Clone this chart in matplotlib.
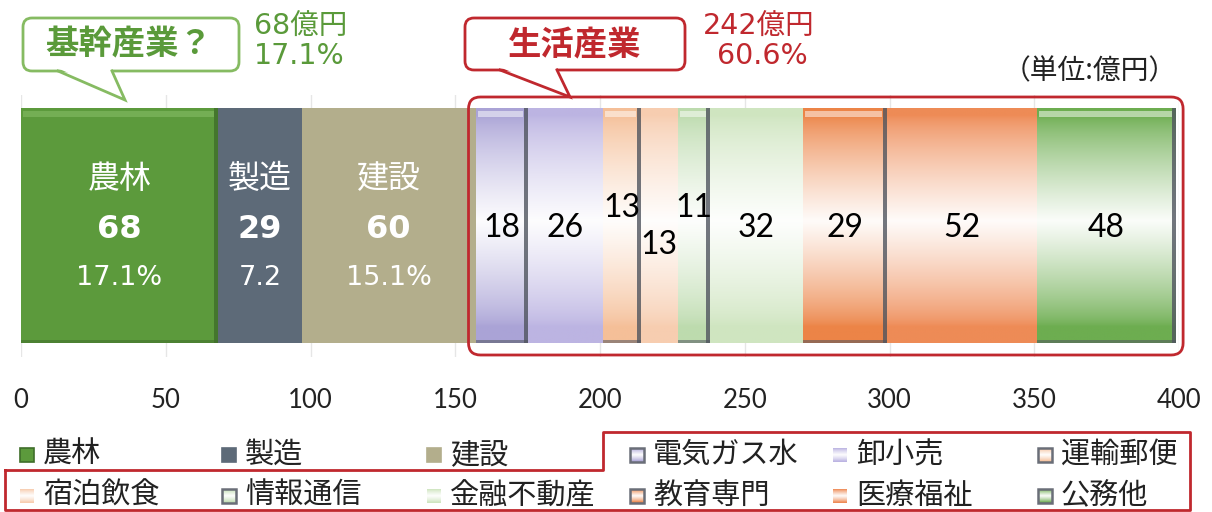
import numpy as np
import matplotlib
matplotlib.use("Agg")
import matplotlib.pyplot as plt
from matplotlib.patches import FancyBboxPatch, Polygon, Rectangle
from matplotlib.colors import to_rgb

# ---- data (億円) ----
industries = ["農林", "製造", "建設", "電気ガス水", "卸小売", "運輸郵便",
              "宿泊飲食", "情報通信", "金融不動産", "教育専門", "医療福祉", "公務他"]
values = [68, 29, 60, 18, 26, 13, 13, 11, 32, 29, 52, 48]
core_labels = ["17.1%", "7.2", "15.1%"]          # share text shown under the core bars
core_pct_text = "17.1%"
life_pct_text = "60.6%"
xticks = [0, 50, 100, 150, 200, 250, 300, 350, 400]

# ---- styles ----
colors = ["#5c9a3c", "#5d6a78", "#b3ae8c", "#aaa3d6", "#bcb4e2", "#f5bf98",
          "#f7cdb0", "#bddbae", "#cfe5c0", "#ec8447", "#ee8b56", "#6dad50"]
bevel = {"農林", "電気ガス水", "運輸郵便", "情報通信", "教育専門", "公務他"}
core = ["農林", "製造", "建設"]
stagger = {"運輸郵便": 1, "宿泊飲食": -1, "情報通信": 1}

JP = ["Noto Sans CJK JP", "DejaVu Sans"]
DIG = ["DejaVu Sans", "Noto Sans CJK JP"]
NUM = ["Lato", "DejaVu Sans"]
GREEN_TXT = "#5a9a3a"
GREEN_LINE = "#86bb62"
RED = "#c0282e"

W, H = 1212, 512
fig = plt.figure(figsize=(W / 100, H / 100), dpi=100)
fig.patch.set_facecolor("white")

# main axes: x 0..400 spans px 21..1179, vertical px 95..357
ax_top, ax_bot = 95, 357
ax = fig.add_axes([21 / W, (H - ax_bot) / H, 1158 / W, (ax_bot - ax_top) / H])
ax.set_xlim(0, 400)
ax.set_ylim(0, 1)


def ypx(p):
    """pixel row -> axes y units"""
    return (ax_bot - p) / (ax_bot - ax_top)


bar_bottom = ypx(343)
bar_top = ypx(108)
bar_h = bar_top - bar_bottom
bar_c = (bar_top + bar_bottom) / 2


def vgradient(color, n=256):
    c = np.array(to_rgb(color))
    t = np.linspace(0, 1, n)
    m = np.clip(1 - np.abs(t - 0.52) / 0.45, 0, 1) ** 0.75 * 0.97
    rgb = c[None, :] * (1 - m[:, None]) + m[:, None]
    return rgb[:, None, :]


lefts = np.concatenate([[0], np.cumsum(values)[:-1]])
bars = ax.barh(bar_c, values, left=lefts, height=bar_h, color=colors,
               linewidth=0, zorder=2)

for name, left, v, col, patch in zip(industries, lefts, values, colors, bars):
    if name not in core:
        im = ax.imshow(vgradient(col), extent=[left, left + v, bar_bottom, bar_top],
                       origin="lower", aspect="auto", zorder=3, interpolation="bilinear")
        im.set_clip_path(patch)
    if name in bevel:
        dark = "#3f6e2a" if name == "農林" else "#50555f"
        ax.add_patch(Rectangle((left + v - 1.3, bar_bottom), 1.3, bar_h,
                               color=dark, alpha=0.8, lw=0, zorder=4))
        ax.add_patch(Rectangle((left, bar_bottom), v, 0.012,
                               color=dark, alpha=0.55, lw=0, zorder=4))
        hl = "#8cc26c" if name == "農林" else "white"
        ax.add_patch(Rectangle((left + 0.8, bar_top - 0.035), v - 2.3, 0.022,
                               color=hl, alpha=0.5, lw=0, zorder=4))

ax.set_xlim(0, 400)
ax.set_ylim(0, 1)

# labels inside bars
for i, (name, left, v) in enumerate(zip(industries, lefts, values)):
    cx = left + v / 2
    if name in core:
        ax.text(cx, ypx(179), name, color="white", fontsize=23, family=JP,
                ha="center", va="center", zorder=6)
        ax.text(cx, ypx(229), f"{v}", color="white", fontsize=23, family=DIG,
                fontweight="bold", ha="center", va="center", zorder=6)
        ax.text(cx, ypx(278), core_labels[i], color="white", fontsize=19.5, family=DIG,
                ha="center", va="center", zorder=6)
    else:
        y = {1: ypx(208), -1: ypx(245)}.get(stagger.get(name, 0), ypx(228))
        ax.text(cx, y, f"{v}", color="black", fontsize=23, family=NUM,
                ha="center", va="center", zorder=6)

ax.set_xticks(xticks)
ax.set_xticklabels([str(t) for t in xticks], fontsize=18.5, family=NUM, color="#222222")
ax.set_yticks([])
ax.tick_params(axis="x", length=0, pad=22)
for s in ax.spines.values():
    s.set_visible(False)
ax.grid(axis="x", color="#e6e6e6", lw=1, zorder=0)
ax.set_axisbelow(True)

# ---- overlay in pixel coordinates ----
ov = fig.add_axes([0, 0, 1, 1], zorder=5)
ov.set_xlim(0, W)
ov.set_ylim(H, 0)
ov.axis("off")


def to_px(xdata):
    return ax.transData.transform((xdata, 0))[0]


life_start = sum(values[:3])
life_end = sum(values)
fx0, fx1 = to_px(life_start) - 7, to_px(life_end) + 7
ov.add_patch(FancyBboxPatch((fx0, 97), fx1 - fx0, 258,
                            boxstyle="round,pad=0,rounding_size=12",
                            fc="none", ec=RED, lw=2, zorder=3))


def bubble(x0, y0, x1, y1, base_l, base_r, tip, ec, lw):
    ov.add_patch(FancyBboxPatch((x0, y0), x1 - x0, y1 - y0,
                                boxstyle="round,pad=0,rounding_size=9",
                                fc="white", ec=ec, lw=lw, zorder=3))
    ov.add_patch(Polygon([(base_l + 1.5, y1 - 2), (base_r - 1.5, y1 - 2),
                          (tip[0], tip[1] - 2)], closed=True,
                         fc="white", ec="none", zorder=4))
    ov.plot([base_l, tip[0], base_r], [y1, tip[1], y1], color=ec, lw=lw,
            solid_joinstyle="miter", zorder=5)


bubble(23, 18, 239, 71, 58, 112, (125, 100), GREEN_LINE, 2)
ov.text(129, 45, "基幹産業？", color=GREEN_TXT, fontsize=24, fontweight="bold",
        family=JP, ha="center", va="center", zorder=6)
ov.text(254, 27, f"{values[0]}億円", color=GREEN_TXT, fontsize=20.5, family=DIG,
        ha="left", va="center")
ov.text(254, 56, core_pct_text, color=GREEN_TXT, fontsize=20.5, family=DIG,
        ha="left", va="center")

bubble(465, 18, 685, 70, 500, 557, (570, 97), RED, 2)
ov.text(575, 46, "生活産業", color=RED, fontsize=24, fontweight="bold",
        family=JP, ha="center", va="center", zorder=6)
life_total = sum(values[3:])
ov.text(759, 27, f"{life_total}億円", color=RED, fontsize=20.5, family=DIG,
        ha="center", va="center")
ov.text(762, 56, life_pct_text, color=RED, fontsize=20.5, family=DIG,
        ha="center", va="center")

ov.text(1177, 71, "（単位:億円）", color="#222222", fontsize=20, family=JP,
        ha="right", va="center")

# ---- legend ----
col_x = [20, 222, 427, 630, 833, 1038]
row_y = [455, 496]
for k, (name, col) in enumerate(zip(industries, colors)):
    r, c = divmod(k, 6)
    mx, my = col_x[c], row_y[r]
    if name in core:
        ov.add_patch(Rectangle((mx, my - 7), 14, 14, fc=col,
                               ec="#3f6e2a" if name == "農林" else col, lw=1.2, zorder=3))
    else:
        ov.imshow(vgradient(col)[::-1], extent=[mx, mx + 14, my + 7, my - 7],
                  aspect="auto", zorder=3, interpolation="bilinear")
        if name in bevel:
            ov.add_patch(Rectangle((mx, my - 7), 14, 14, fc="none",
                                   ec="#6a6e78", lw=1.8, zorder=4))
    ov.text(mx + 23, my, name, fontsize=21, family=JP, color="#222222",
            ha="left", va="center")
ov.set_xlim(0, W)
ov.set_ylim(H, 0)

ov.plot([5, 603, 603, 1190, 1190, 5, 5], [470, 470, 432, 432, 510, 510, 470],
        color=RED, lw=2, zorder=2)

fig.savefig("out.png", dpi=100)
